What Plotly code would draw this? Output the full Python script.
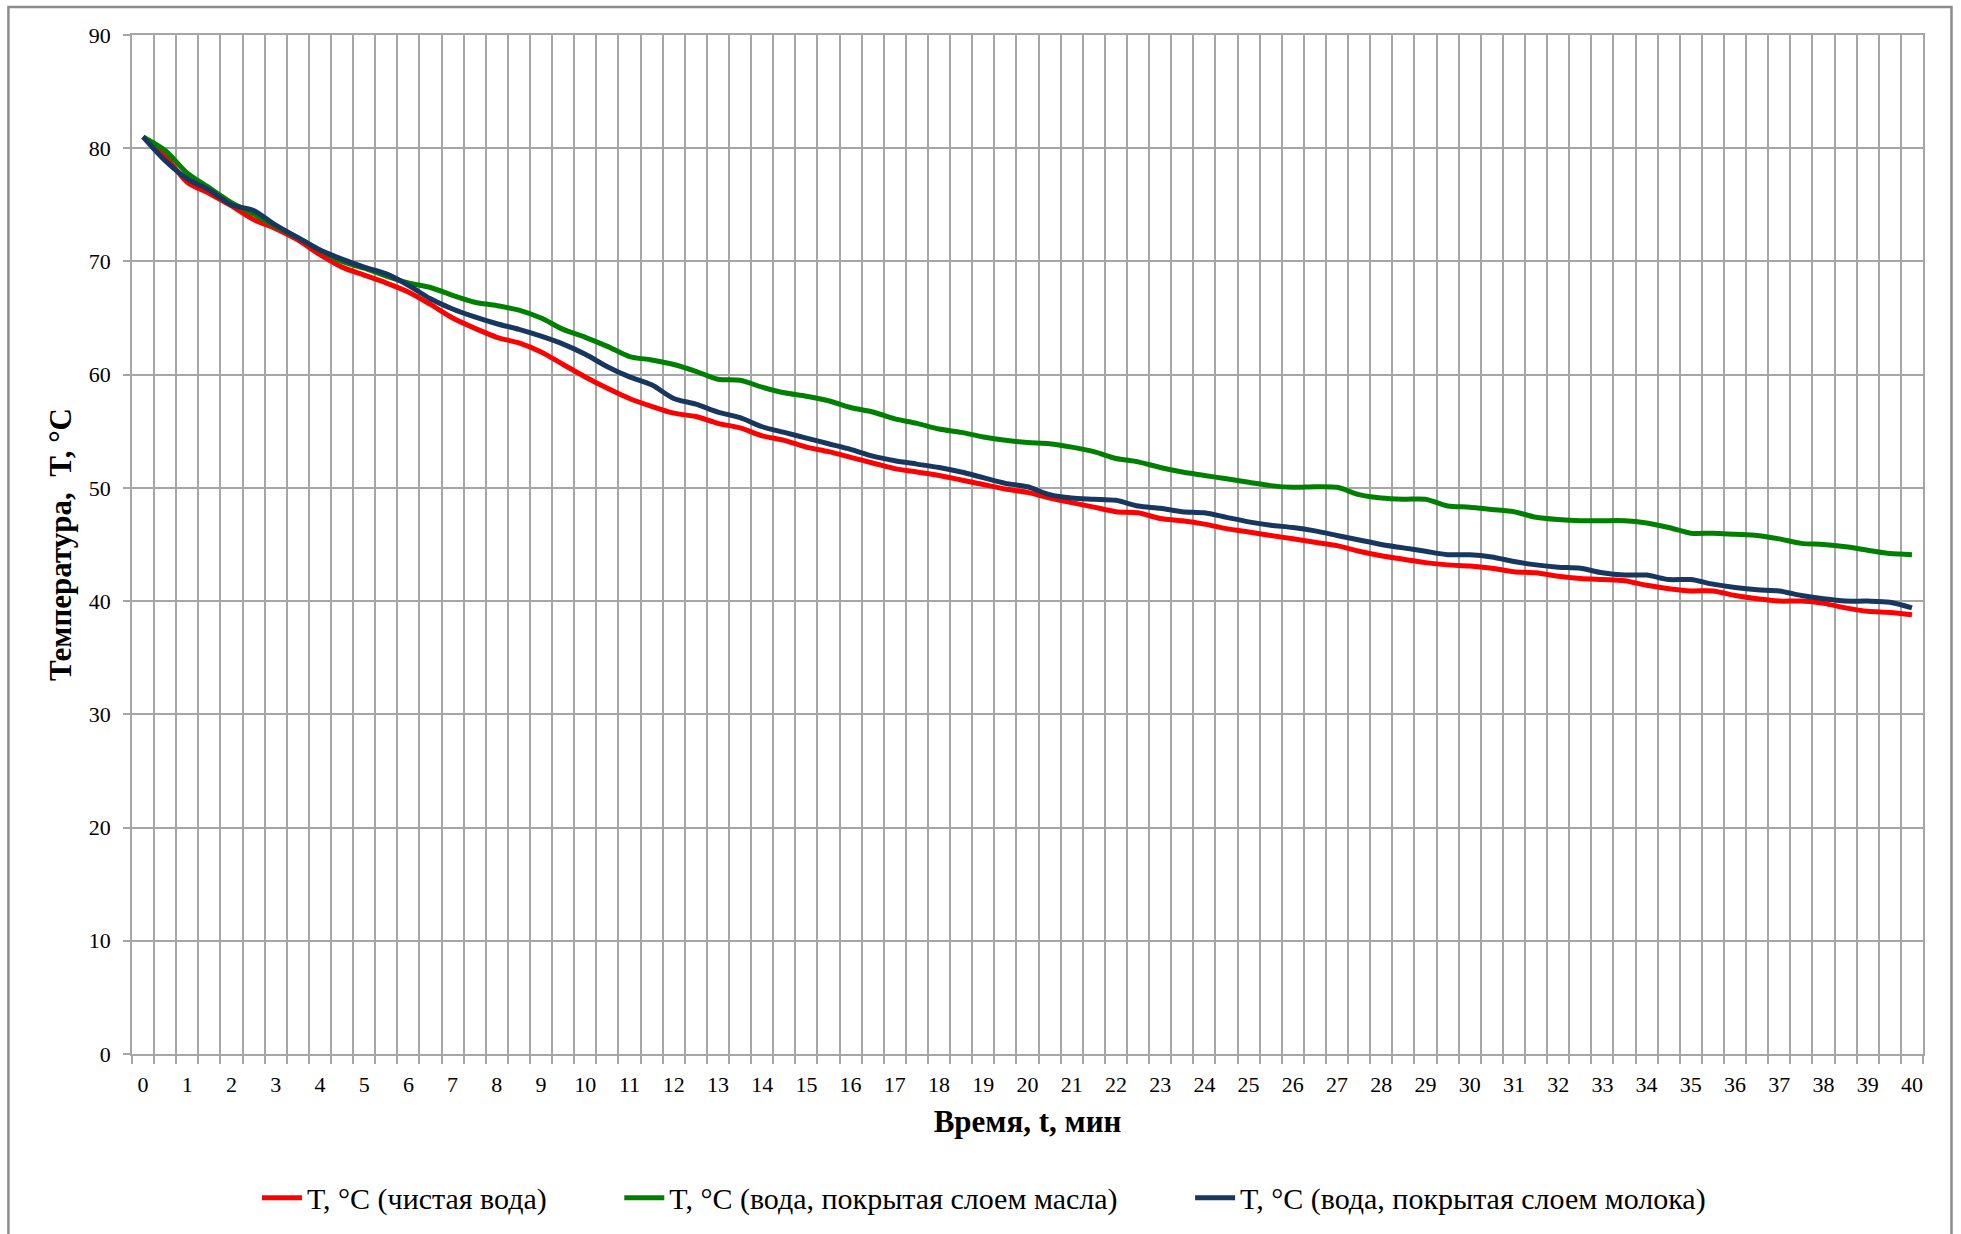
import plotly.graph_objects as go

# Time, minutes (categories, step 0.5 min)
time_min = [0, 0.5, 1, 1.5, 2, 2.5, 3, 3.5, 4, 4.5, 5, 5.5, 6, 6.5, 7, 7.5, 8, 8.5, 9, 9.5,
            10, 10.5, 11, 11.5, 12, 12.5, 13, 13.5, 14, 14.5, 15, 15.5, 16, 16.5, 17, 17.5, 18, 18.5, 19, 19.5,
            20, 20.5, 21, 21.5, 22, 22.5, 23, 23.5, 24, 24.5, 25, 25.5, 26, 26.5, 27, 27.5, 28, 28.5, 29, 29.5,
            30, 30.5, 31, 31.5, 32, 32.5, 33, 33.5, 34, 34.5, 35, 35.5, 36, 36.5, 37, 37.5, 38, 38.5, 39, 39.5, 40]

# T, °C (чистая вода)
t_water = [81.0, 79.3, 77.0, 76.0, 74.9, 73.7, 72.9, 71.9, 70.6, 69.5,
           68.8, 68.1, 67.3, 66.2, 65.0, 64.1, 63.3, 62.8, 62.0, 60.9,
           59.8, 58.8, 57.9, 57.2, 56.6, 56.3, 55.7, 55.3, 54.6, 54.2,
           53.6, 53.2, 52.7, 52.2, 51.7, 51.4, 51.1, 50.7, 50.3, 49.9,
           49.6, 49.1, 48.7, 48.3, 47.9, 47.8, 47.3, 47.1, 46.8, 46.4,
           46.1, 45.8, 45.5, 45.2, 44.9, 44.4, 44.0, 43.7, 43.4, 43.2,
           43.1, 42.9, 42.6, 42.5, 42.2, 42.0, 41.9, 41.8, 41.4, 41.1,
           40.9, 40.9, 40.5, 40.2, 40.0, 40.0, 39.8, 39.4, 39.1, 39.0, 38.8]

# T, °C (вода, покрытая слоем масла)
t_oil = [81.0, 79.8, 77.8, 76.5, 75.2, 74.2, 73.1, 72.1, 71.0, 70.0,
         69.4, 68.7, 68.1, 67.7, 67.0, 66.4, 66.1, 65.7, 65.0, 64.0,
         63.3, 62.5, 61.6, 61.3, 60.9, 60.3, 59.6, 59.5, 58.9, 58.4,
         58.1, 57.7, 57.1, 56.7, 56.1, 55.7, 55.2, 54.9, 54.5, 54.2,
         54.0, 53.9, 53.6, 53.2, 52.6, 52.3, 51.8, 51.4, 51.1, 50.8,
         50.5, 50.2, 50.05, 50.1, 50.05, 49.4, 49.1, 49.0, 49.0, 48.4,
         48.3, 48.1, 47.9, 47.4, 47.2, 47.1, 47.1, 47.1, 46.9, 46.5,
         46.0, 46.0, 45.9, 45.8, 45.5, 45.1, 45.0, 44.8, 44.5, 44.2, 44.1]

# T, °C (вода, покрытая слоем молока)
t_milk = [81.0, 78.9, 77.3, 76.3, 75.0, 74.5, 73.2, 72.1, 71.0, 70.2,
          69.5, 68.9, 67.9, 66.7, 65.8, 65.1, 64.5, 64.0, 63.4, 62.7,
          61.8, 60.7, 59.8, 59.1, 57.9, 57.4, 56.7, 56.2, 55.4, 54.9,
          54.4, 53.9, 53.4, 52.8, 52.4, 52.1, 51.8, 51.4, 50.9, 50.4,
          50.1, 49.4, 49.1, 49.0, 48.9, 48.4, 48.2, 47.9, 47.8, 47.4,
          47.0, 46.7, 46.5, 46.2, 45.8, 45.4, 45.0, 44.7, 44.4, 44.1,
          44.1, 43.9, 43.5, 43.2, 43.0, 42.9, 42.5, 42.3, 42.3, 41.9,
          41.9, 41.5, 41.2, 41.0, 40.9, 40.5, 40.2, 40.0, 40.0, 39.9, 39.4]

x_tick_vals = list(range(0, 41))
x_tick_text = [str(v) for v in x_tick_vals]

series_names = ["T, °C (чистая вода)",
                "T, °C (вода, покрытая слоем масла)",
                "T, °C (вода, покрытая слоем молока)"]
series_colors = ["#FF0000", "#008000", "#17375E"]
series_values = [t_water, t_oil, t_milk]

FONT = "Liberation Serif"
GRID = "#A6A6A6"
PAD = "\u00a0" * 9

fig = go.Figure()
for k, (name, color, vals) in enumerate(zip(series_names, series_colors, series_values)):
    fig.add_trace(go.Scatter(
        x=time_min, y=vals, name=name + (PAD if k < 2 else ""), mode="lines",
        line=dict(color=color, width=5, shape="spline", smoothing=0.8),
    ))

fig.update_layout(
    width=1961, height=1234,
    margin=dict(l=132, r=38, t=35, b=180, autoexpand=False),
    paper_bgcolor="white", plot_bgcolor="white",
    font=dict(family=FONT, size=22, color="black"),
    showlegend=True,
    legend=dict(orientation="h", x=0.4757, xanchor="center", y=-0.141, yanchor="middle",
                font=dict(family=FONT, size=30, color="black"),
                itemwidth=40, tracegroupgap=0),
    xaxis=dict(
        automargin=False,
        range=[-0.25, 40.25], tickmode="array", tickvals=x_tick_vals, ticktext=x_tick_text,
        showgrid=False, zeroline=False,
        ticks="outside", ticklen=8, tickcolor="rgba(0,0,0,0)",
        tickfont=dict(family=FONT, size=22, color="black"),
        ticklabelstandoff=2,
        showline=True, mirror=True, linecolor=GRID, linewidth=1.5,
        minor=dict(tickmode="linear", tick0=-0.25, dtick=0.5, showgrid=True,
                   gridcolor=GRID, gridwidth=1.5, ticks="outside", ticklen=8,
                   tickcolor=GRID, tickwidth=1.5),
        title=dict(text="<b>Время, t, мин</b>", font=dict(family=FONT, size=31, color="black"),
                   standoff=14),
    ),
    yaxis=dict(
        automargin=False,
        range=[0, 90], tickmode="linear", tick0=0, dtick=10,
        showgrid=True, gridcolor=GRID, gridwidth=1.5, zeroline=False,
        ticks="outside", ticklen=7, tickcolor=GRID, tickwidth=1.5,
        tickfont=dict(family=FONT, size=22, color="black"),
        ticklabelstandoff=8,
        showline=True, mirror=True, linecolor=GRID, linewidth=1.5,
        title=dict(text="<b>Температура,  T, °C</b>", font=dict(family=FONT, size=31, color="black"),
                   standoff=8),
    ),
    shapes=[dict(type="rect", xref="paper", yref="paper",
                 x0=-0.069, x1=1.0159, y0=-0.25, y1=1.0275,
                 line=dict(color="#8C8C8C", width=2.5), fillcolor="rgba(0,0,0,0)", layer="below")],
)

fig.write_html("out.html", config={"displayModeBar": False},
               post_script="document.body.style.margin='0';")
